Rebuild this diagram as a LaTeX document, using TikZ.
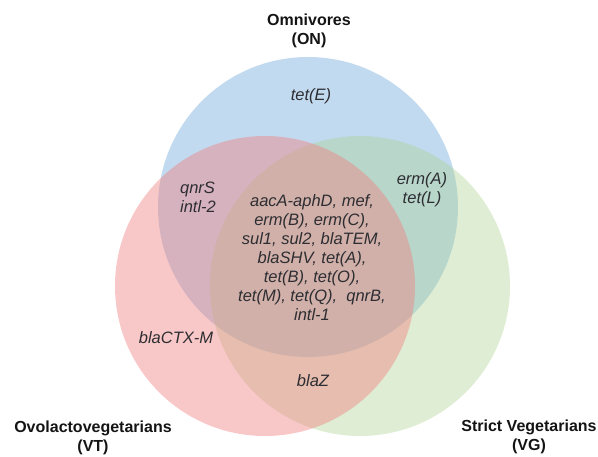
\documentclass[tikz,border=0pt]{standalone}
\usepackage{fontspec}
\setmainfont{Liberation Sans}
\definecolor{onblue}{RGB}{157,195,230}
\definecolor{vtpink}{RGB}{240,128,128}
\definecolor{vggreen}{RGB}{169,209,142}
\definecolor{titlecol}{RGB}{20,20,20}
\definecolor{genecol}{RGB}{45,45,50}
\begin{document}
\begin{tikzpicture}[x=1pt,y=-1pt,
  setcircle/.style={circle, minimum size=300pt, inner sep=0pt, draw=none},
  grouptitle/.style={font=\fontsize{16}{18.5}\selectfont\bfseries, text=titlecol, align=center, inner sep=0pt},
  genes/.style={font=\fontsize{16.5}{19}\selectfont\itshape, text=genecol, align=center, inner sep=0pt}]
\useasboundingbox (0,0) rectangle (598,456);
\node[setcircle, fill=onblue, fill opacity=0.62] (on) at (308,207) {};
\node[setcircle, fill=vggreen, fill opacity=0.38] (vg) at (360,286) {};
\node[setcircle, fill=vtpink, fill opacity=0.44] (vt) at (265,286) {};

\node[grouptitle] (ontitle) at (309,31) {Omnivores\\(ON)};
\node[grouptitle] (vttitle) at (93,438) {Ovolactovegetarians\\(VT)};
\node[grouptitle] (vgtitle) at (529,437) {Strict Vegetarians\\(VG)};

\node[genes] (onlyon) at (311,96) {tet(E)};
\node[genes, align=left] (onvt) at (198,197) {qnrS\\intl-2};
\node[genes] (onvg) at (422,190) {erm(A)\\tet(L)};
\node[genes] (core) at (312,258) {aacA-aphD, mef,\\erm(B), erm(C),\\sul1, sul2, blaTEM,\\blaSHV, tet(A),\\tet(B), tet(O),\\tet(M), tet(Q),\ \ qnrB,\\intl-1};
\node[genes] (onlyvt) at (176,338) {blaCTX-M};
\node[genes] (vtvg) at (313,381) {blaZ};
\end{tikzpicture}
\end{document}
